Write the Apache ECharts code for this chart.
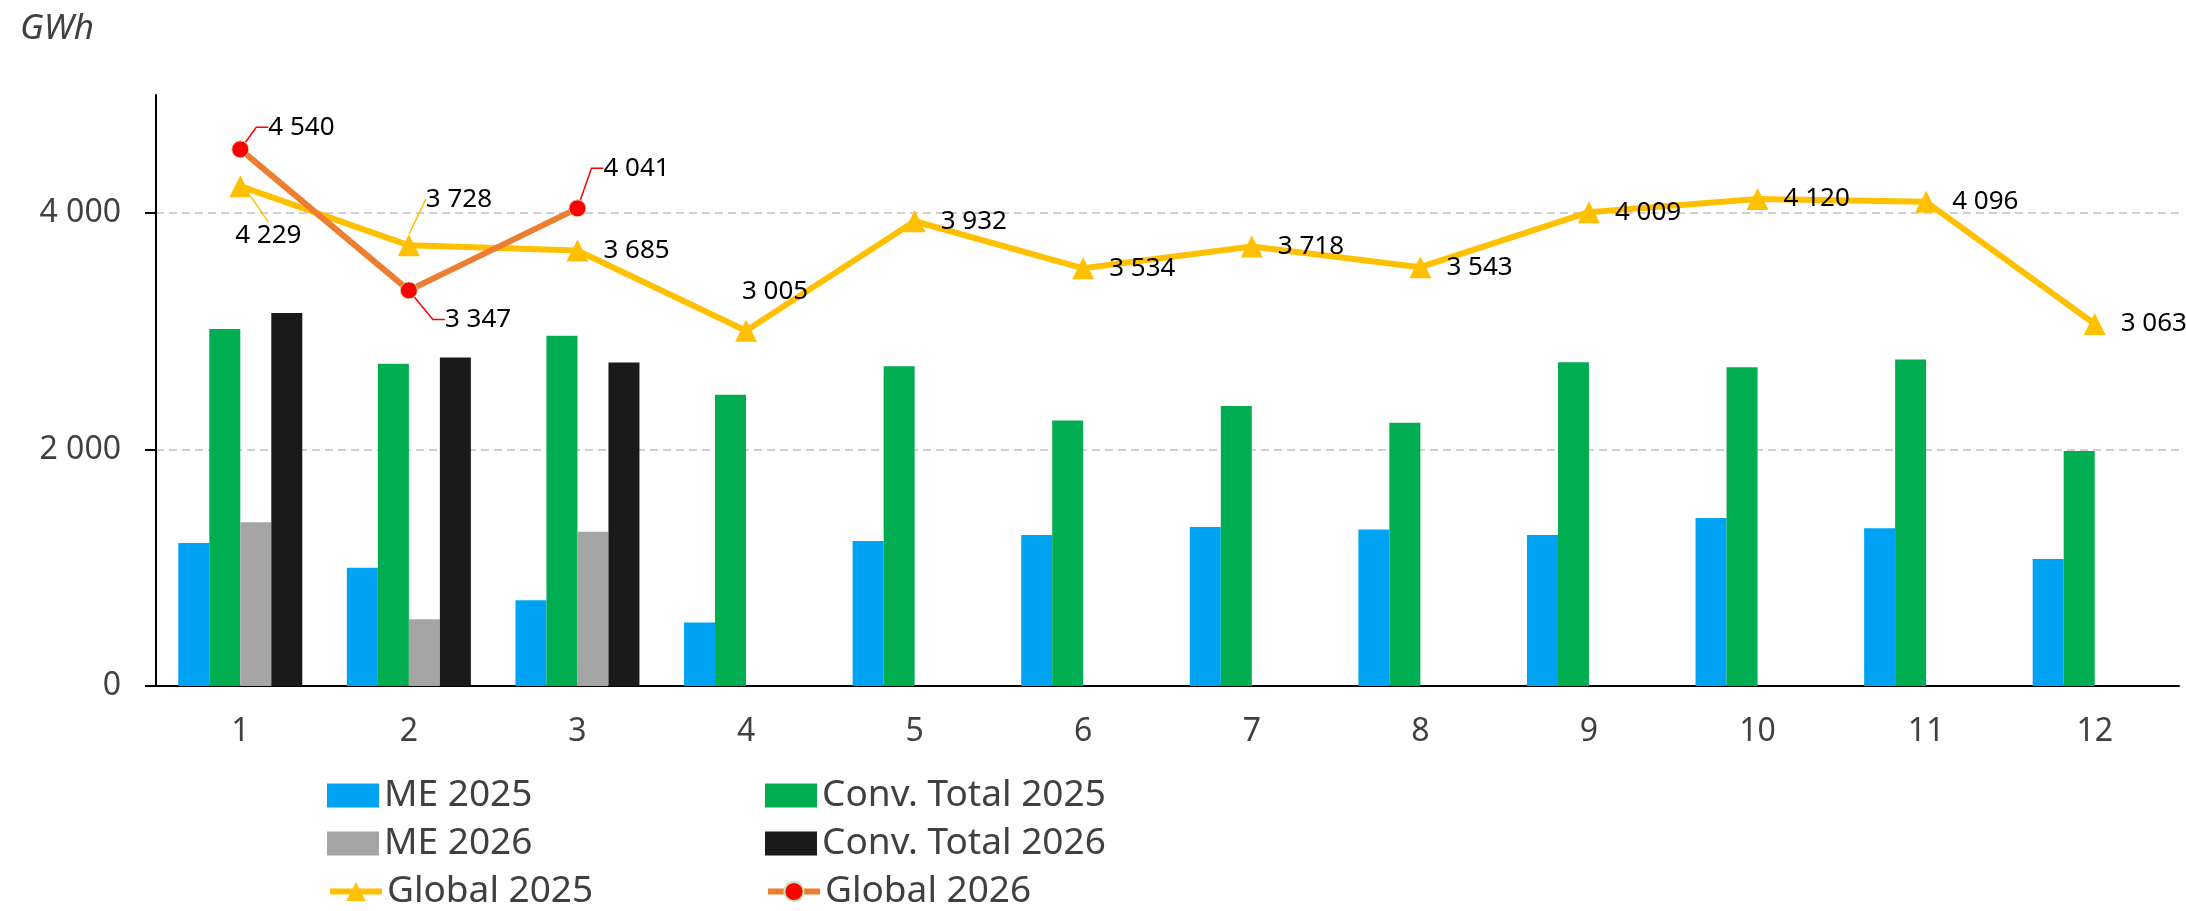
<!DOCTYPE html>
<html>
<head>
<meta charset="utf-8">
<script src="https://cdn.jsdelivr.net/npm/echarts@6/dist/echarts.min.js"></script>
<style>
  html, body { margin: 0; padding: 0; background: #fff; }
  #main { width: 2186px; height: 911px; }
</style>
</head>
<body>
<div id="main"></div>
<script>
// 月份
const months = ['1', '2', '3', '4', '5', '6', '7', '8', '9', '10', '11', '12']
// 柱状数据 (GWh)
const me2025 = [1210, 1000, 726, 538, 1227, 1278, 1346, 1323, 1278, 1422, 1334, 1074]
const conv2025 = [3020, 2726, 2963, 2465, 2705, 2246, 2368, 2227, 2739, 2697, 2762, 1989]
const me2026 = [1385, 565, 1305, null, null, null, null, null, null, null, null, null]
const conv2026 = [3155, 2780, 2737, null, null, null, null, null, null, null, null, null]
// 折线数据
const global2025 = [4229, 3728, 3685, 3005, 3932, 3534, 3718, 3543, 4009, 4120, 4096, 3063]
const global2026 = [4540, 3347, 4041, null, null, null, null, null, null, null, null, null]
// y 轴刻度
const yTicks = [0, 2000, 4000]

// 标签偏移 [dx, dy, 是否有引导线]
const labelMove2025 = { 0: [28, 49, true], 1: [50, -46, true], 3: [29, -39, false] }
const labelMove2026 = { 0: [28, -22], 1: [36, 29], 2: [26, -40] }

// 图例位置 [名称, 图标, left, top]
const legendSlots = [
  ['ME 2025', 'rect', 327, 777],
  ['ME 2026', 'rect', 327, 825],
  ['Global 2025', null, 327, 873],
  ['Conv. Total 2025', 'rect', 765, 777],
  ['Conv. Total 2026', 'rect', 765, 825],
  ['Global 2026', null, 765, 873]
]

const fmt = (v) => String(v).replace(/\B(?=(\d{3})+(?!\d))/g, ' ')
const font = '"Noto Sans", sans-serif'
const grey = '#404040'

const chart = echarts.init(document.getElementById('main'))

const center = (p) => [p.rect.x + p.rect.width / 2, p.rect.y + p.rect.height / 2]

const barSeries = (name, data, color) => ({
  name,
  type: 'bar',
  data,
  barWidth: 31,
  barGap: '0%',
  itemStyle: { color }
})

const legends = legendSlots.map(([name, icon, left, top]) => ({
  left,
  top,
  padding: 0,
  itemWidth: 52,
  itemHeight: 24,
  textStyle: { fontSize: 37, lineHeight: 35, color: grey, fontFamily: font },
  lineStyle: { width: 6 },
  data: [icon ? { name, icon } : name]
}))

const option = {
  animation: false,
  backgroundColor: '#fff',
  title: {
    text: 'GWh',
    left: 20,
    top: 12,
    padding: 0,
    textStyle: { fontSize: 35, fontStyle: 'italic', fontWeight: 'normal', color: grey, fontFamily: font }
  },
  grid: { left: 156, right: 7, top: 95, bottom: 225, outerBoundsMode: 'none' },
  legend: legends,
  xAxis: {
    type: 'category',
    data: months,
    axisLine: { lineStyle: { color: '#000', width: 2 } },
    axisTick: { length: 12, lineStyle: { color: '#000', width: 1.5 } },
    axisLabel: { fontSize: 32, color: grey, fontFamily: font, margin: 30 }
  },
  yAxis: {
    type: 'value',
    min: 0,
    max: 5000,
    interval: 2000,
    axisLine: { show: true, lineStyle: { color: '#000', width: 2 } },
    axisTick: { show: true, length: 11, customValues: yTicks, lineStyle: { color: '#000', width: 2 } },
    axisLabel: {
      fontSize: 32, color: grey, fontFamily: font, margin: 35,
      customValues: yTicks,
      formatter: fmt
    },
    splitLine: {
      show: true,
      showMinLine: false,
      lineStyle: { color: '#d0d0d0', type: [8, 5], width: 2 }
    }
  },
  series: [
    barSeries('ME 2025', me2025, '#00A3F3'),
    barSeries('Conv. Total 2025', conv2025, '#00AD50'),
    barSeries('ME 2026', me2026, '#A5A5A5'),
    barSeries('Conv. Total 2026', conv2026, '#1A1A1A'),
    {
      name: 'Global 2025',
      type: 'line',
      z: 5,
      data: global2025.map((v, i) => ({
        value: v,
        labelLine: { show: !!(labelMove2025[i] && labelMove2025[i][2]) }
      })),
      symbol: 'triangle',
      symbolSize: 22,
      lineStyle: { color: '#FFC000', width: 6 },
      itemStyle: { color: '#FFC000' },
      label: {
        show: true,
        position: 'right',
        distance: 15,
        fontSize: 26,
        color: '#000',
        fontFamily: font,
        formatter: (p) => fmt(p.value)
      },
      labelLine: { show: false, length2: 0, lineStyle: { color: '#FFC000', width: 1.5 } },
      labelLayout: (p) => {
        const m = labelMove2025[p.dataIndex]
        if (!m) return {}
        const [cx, cy] = center(p)
        return { x: cx + m[0], y: cy + m[1], align: 'center', verticalAlign: 'middle' }
      }
    },
    {
      name: 'Global 2026',
      type: 'line',
      z: 6,
      data: global2026,
      symbol: 'circle',
      symbolSize: 17,
      lineStyle: { color: '#ED7D31', width: 6 },
      itemStyle: { color: '#FF0000', borderColor: '#C5E0B4', borderWidth: 1 },
      label: {
        show: true,
        fontSize: 26,
        color: '#000',
        fontFamily: font,
        formatter: (p) => fmt(p.value)
      },
      labelLine: { show: true, length2: 12, lineStyle: { color: '#FF0000', width: 1.5 } },
      labelLayout: (p) => {
        const m = labelMove2026[p.dataIndex]
        if (!m) return {}
        const [cx, cy] = center(p)
        return { x: cx + m[0], y: cy + m[1], align: 'left', verticalAlign: 'middle' }
      }
    }
  ]
}

option && chart.setOption(option)
</script>
</body>
</html>
